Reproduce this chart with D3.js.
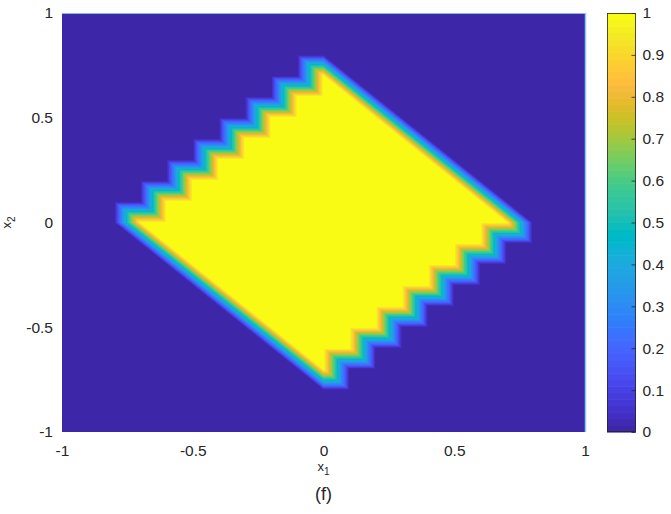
<!DOCTYPE html>
<html>
<head>
<meta charset="utf-8">
<script src="https://cdn.jsdelivr.net/npm/d3@7"></script>
<style>
body { margin: 0; background: #fff; }
text { font-family: "Liberation Sans", Arial, sans-serif; fill: #262626; }
</style>
</head>
<body>
<div id="target"></div>
<script>
// grid rows (x2) and the x1 span on each row where the output is 1
let gridStep = 0.1
let rowY = [0.7, 0.6, 0.5, 0.4, 0.3, 0.2, 0.1, 0, -0.1, -0.2, -0.3, -0.4, -0.5, -0.6, -0.7]
let rowLo = [0, -0.1, -0.2, -0.3, -0.4, -0.5, -0.6, -0.7, -0.6, -0.5, -0.4, -0.3, -0.2, -0.1, 0]
let rowHi = [0, 0.1, 0.2, 0.3, 0.4, 0.5, 0.6, 0.7, 0.6, 0.5, 0.4, 0.3, 0.2, 0.1, 0]

let xTicks = [-1, -0.5, 0, 0.5, 1]
let yTicks = [-1, -0.5, 0, 0.5, 1]
let cbTicks = [0, 0.1, 0.2, 0.3, 0.4, 0.5, 0.6, 0.7, 0.8, 0.9, 1]

// parula, 64 colours
let parula = [
    [0.2422, 0.1504, 0.6603], [0.2504, 0.1650, 0.7076], [0.2578, 0.1818, 0.7511], [0.2647, 0.1978, 0.7952],
    [0.2706, 0.2147, 0.8364], [0.2751, 0.2342, 0.8710], [0.2783, 0.2559, 0.8991], [0.2803, 0.2782, 0.9221],
    [0.2813, 0.3006, 0.9414], [0.2810, 0.3228, 0.9579], [0.2795, 0.3447, 0.9717], [0.2760, 0.3667, 0.9829],
    [0.2699, 0.3892, 0.9906], [0.2602, 0.4123, 0.9952], [0.2440, 0.4358, 0.9988], [0.2206, 0.4603, 0.9973],
    [0.1963, 0.4847, 0.9892], [0.1834, 0.5074, 0.9798], [0.1786, 0.5289, 0.9682], [0.1764, 0.5499, 0.9520],
    [0.1687, 0.5703, 0.9359], [0.1540, 0.5902, 0.9218], [0.1460, 0.6091, 0.9079], [0.1380, 0.6276, 0.8973],
    [0.1248, 0.6459, 0.8883], [0.1113, 0.6635, 0.8763], [0.0952, 0.6798, 0.8598], [0.0689, 0.6948, 0.8394],
    [0.0297, 0.7082, 0.8163], [0.0036, 0.7197, 0.7911], [0.0067, 0.7299, 0.7631], [0.0433, 0.7394, 0.7338],
    [0.0964, 0.7492, 0.7055], [0.1408, 0.7584, 0.6780], [0.1717, 0.7667, 0.6463], [0.1938, 0.7758, 0.6251],
    [0.2161, 0.7843, 0.5923], [0.2470, 0.7918, 0.5567], [0.2906, 0.7973, 0.5188], [0.3406, 0.8008, 0.4789],
    [0.3909, 0.8029, 0.4354], [0.4456, 0.8024, 0.3909], [0.5044, 0.7993, 0.3480], [0.5616, 0.7942, 0.3045],
    [0.6174, 0.7876, 0.2612], [0.6720, 0.7793, 0.2227], [0.7242, 0.7698, 0.1910], [0.7738, 0.7598, 0.1646],
    [0.8203, 0.7498, 0.1535], [0.8634, 0.7406, 0.1596], [0.9035, 0.7330, 0.1774], [0.9393, 0.7288, 0.2100],
    [0.9728, 0.7298, 0.2394], [0.9956, 0.7434, 0.2371], [0.9970, 0.7659, 0.2199], [0.9952, 0.7893, 0.2028],
    [0.9892, 0.8136, 0.1885], [0.9786, 0.8386, 0.1766], [0.9676, 0.8639, 0.1643], [0.9610, 0.8890, 0.1537],
    [0.9597, 0.9135, 0.1423], [0.9628, 0.9373, 0.1265], [0.9691, 0.9606, 0.1064], [0.9769, 0.9839, 0.0805]
].map(c => c.map(v => Math.round(v * 255)))

let width = 671, height = 514
let plot = {left: 62, right: 585, top: 13, bottom: 432}
let cb = {left: 607, right: 636}

let x = d3.scaleLinear().domain([-1, 1]).range([plot.left, plot.right])
let y = d3.scaleLinear().domain([-1, 1]).range([plot.bottom, plot.top])
let cy = d3.scaleLinear().domain([0, 1]).range([plot.bottom, plot.top])
let colorIndex = v => Math.max(0, Math.min(63, Math.floor(v * 64)))

let svg = d3.select("#target").append("svg")
    .attr("width", width)
    .attr("height", height)

// node grid from the row spans
let n = Math.round(2 / gridStep) + 1
let grid = d3.range(n).map(() => new Array(n).fill(0))
rowY.forEach((yy, k) => {
    let j = Math.round((yy + 1) / gridStep)
    let i0 = Math.round((rowLo[k] + 1) / gridStep)
    let i1 = Math.round((rowHi[k] + 1) / gridStep)
    for (let i = i0; i <= i1; i++) grid[j][i] = 1
})

// each cell split in two triangles along its anti-diagonal, colours interpolated inside (shading interp)
let sample = (fi, fj) => {
    let i0 = Math.max(0, Math.min(n - 2, Math.floor(fi)))
    let j0 = Math.max(0, Math.min(n - 2, Math.floor(fj)))
    let tx = Math.max(0, Math.min(1, fi - i0))
    let ty = Math.max(0, Math.min(1, fj - j0))
    let ll = grid[j0][i0], lr = grid[j0][i0 + 1]
    let ul = grid[j0 + 1][i0], ur = grid[j0 + 1][i0 + 1]
    if (tx + ty <= 1) return ll + (lr - ll) * tx + (ul - ll) * ty
    return ur + (ul - ur) * (1 - tx) + (lr - ur) * (1 - ty)
}

let pw = plot.right - plot.left, ph = plot.bottom - plot.top
let canvas = document.createElement("canvas")
canvas.width = pw
canvas.height = ph
let ctx = canvas.getContext("2d")
let img = ctx.createImageData(pw, ph)
for (let py = 0; py < ph; py++) {
    let fj = (y.invert(plot.top + py + 0.5) + 1) / gridStep
    for (let px = 0; px < pw; px++) {
        let fi = (x.invert(plot.left + px + 0.5) + 1) / gridStep
        let c = parula[colorIndex(sample(fi, fj))]
        let o = (py * pw + px) * 4
        img.data[o] = c[0]
        img.data[o + 1] = c[1]
        img.data[o + 2] = c[2]
        img.data[o + 3] = 255
    }
}
ctx.putImageData(img, 0, 0)

svg.append("image")
    .attr("x", plot.left)
    .attr("y", plot.top)
    .attr("width", pw)
    .attr("height", ph)
    .attr("preserveAspectRatio", "none")
    .attr("href", canvas.toDataURL())

// light edge along top and right of the surface
svg.append("line")
    .attr("x1", plot.left).attr("x2", plot.right)
    .attr("y1", plot.top + 0.5).attr("y2", plot.top + 0.5)
    .attr("stroke", "#8fb6f2").attr("stroke-width", 1)
svg.append("line")
    .attr("x1", plot.right + 0.5).attr("x2", plot.right + 0.5)
    .attr("y1", plot.top).attr("y2", plot.bottom)
    .attr("stroke", "#7fcdf4").attr("stroke-width", 1.5)

// axes, no lines or tick marks
let xAxis = svg.append("g")
    .attr("transform", `translate(0,${plot.bottom})`)
    .call(d3.axisBottom(x).tickValues(xTicks).tickSize(0).tickPadding(13).tickFormat(d => String(d)))
let yAxis = svg.append("g")
    .attr("transform", `translate(${plot.left},0)`)
    .call(d3.axisLeft(y).tickValues(yTicks).tickSize(0).tickPadding(9).tickFormat(d => String(d)))
for (let g of [xAxis, yAxis]) {
    g.select(".domain").remove()
    g.selectAll("text").attr("font-size", 15.5).attr("fill", "#262626")
        .attr("font-family", "'Liberation Sans', Arial, sans-serif")
}

// axis labels
let xl = svg.append("text")
    .attr("x", x(0))
    .attr("y", 471)
    .attr("text-anchor", "middle")
    .attr("font-family", "'Liberation Serif', 'Times New Roman', serif")
    .attr("font-size", 13)
xl.append("tspan").text("x")
xl.append("tspan").attr("dy", 4).attr("font-size", 10).text("1")

let yl = svg.append("text")
    .attr("transform", `translate(11,${y(0)}) rotate(-90)`)
    .attr("text-anchor", "middle")
    .attr("font-family", "'Liberation Serif', 'Times New Roman', serif")
    .attr("font-size", 13)
yl.append("tspan").text("x")
yl.append("tspan").attr("dy", 4).attr("font-size", 10).text("2")

svg.append("text")
    .attr("x", x(0))
    .attr("y", 500)
    .attr("text-anchor", "middle")
    .attr("font-size", 18)
    .text("(f)")

// colorbar
let bar = svg.append("g")
bar.selectAll("rect").data(parula).enter().append("rect")
    .attr("x", cb.left)
    .attr("width", cb.right - cb.left)
    .attr("y", (d, k) => cy((k + 1) / 64))
    .attr("height", (d, k) => cy(k / 64) - cy((k + 1) / 64) + 0.6)
    .attr("fill", d => `rgb(${d[0]},${d[1]},${d[2]})`)
bar.append("rect")
    .attr("x", cb.left + 0.5)
    .attr("y", plot.top + 0.5)
    .attr("width", cb.right - cb.left - 1)
    .attr("height", ph - 1)
    .attr("fill", "none")
    .attr("stroke", "#262626")
    .attr("stroke-width", 0.8)
let cAxis = svg.append("g")
    .attr("transform", `translate(${cb.right - 0.5},0)`)
    .call(d3.axisRight(cy).tickValues(cbTicks).tickSizeInner(-4).tickSizeOuter(0).tickPadding(7).tickFormat(d => String(d)))
cAxis.select(".domain").remove()
cAxis.selectAll("line").attr("stroke", "#262626").attr("stroke-width", 0.8)
cAxis.selectAll("text").attr("font-size", 15.5).attr("fill", "#262626")
    .attr("font-family", "'Liberation Sans', Arial, sans-serif")
</script>
</body>
</html>
